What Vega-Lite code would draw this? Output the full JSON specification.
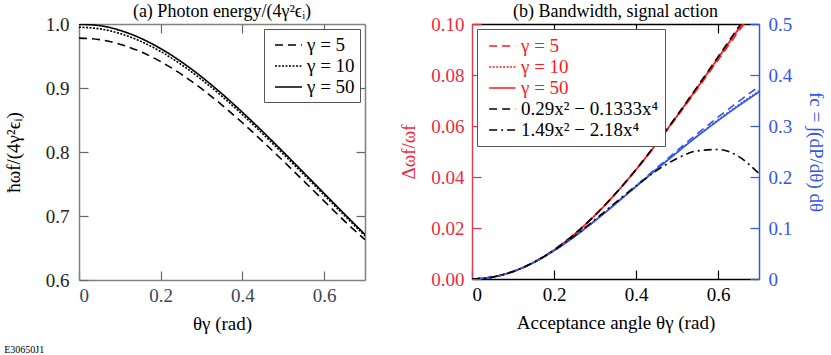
{
  "$schema": "https://vega.github.io/schema/vega-lite/v6.json",
  "background": "white",
  "padding": {"left": 4, "top": 3, "right": 2, "bottom": 0},
  "spacing": 33,
  "title": {"text": "E30650J1", "orient": "bottom", "anchor": "start", "fontSize": 10, "font": "Liberation Serif", "fontWeight": "normal", "offset": 12, "frame": "bounds"},
  "resolve": {"scale": {"strokeDash": "independent", "color": "independent", "x": "independent", "y": "independent"}, "legend": {"strokeDash": "independent", "color": "independent"}},
  "config": {
    "font": "Liberation Serif",
    "view": {"stroke": null},
    "axis": {"labelFontSize": 19, "titleFontSize": 19, "titleFontWeight": "normal", "grid": false, "tickSize": -9, "labelPadding": 18, "labelFont": "Liberation Serif", "titleFont": "Liberation Serif", "domainWidth": 1.5, "tickWidth": 1.2},
    "legend": {"labelFont": "Liberation Serif", "labelFontSize": 19},
    "title": {"fontSize": 18, "fontWeight": "normal", "font": "Liberation Serif", "offset": -6}
  },
  "datasets": {
    "left": [
      {"x": 0, "y": 0.978, "g": "γ = 5"}, {"x": 0.05, "y": 0.97561, "g": "γ = 5"}, {"x": 0.1, "y": 0.968523, "g": "γ = 5"}, {"x": 0.15, "y": 0.956938, "g": "γ = 5"}, {"x": 0.2, "y": 0.941176, "g": "γ = 5"}, {"x": 0.25, "y": 0.921659, "g": "γ = 5"}, {"x": 0.3, "y": 0.898876, "g": "γ = 5"}, {"x": 0.35, "y": 0.873362, "g": "γ = 5"}, {"x": 0.4, "y": 0.845666, "g": "γ = 5"}, {"x": 0.45, "y": 0.816327, "g": "γ = 5"}, {"x": 0.5, "y": 0.785855, "g": "γ = 5"}, {"x": 0.55, "y": 0.754717, "g": "γ = 5"}, {"x": 0.6, "y": 0.723327, "g": "γ = 5"}, {"x": 0.65, "y": 0.692042, "g": "γ = 5"}, {"x": 0.7, "y": 0.663, "g": "γ = 5"},
      {"x": 0, "y": 0.995, "g": "γ = 10"}, {"x": 0.05, "y": 0.992556, "g": "γ = 10"}, {"x": 0.1, "y": 0.985222, "g": "γ = 10"}, {"x": 0.15, "y": 0.973236, "g": "γ = 10"}, {"x": 0.2, "y": 0.956938, "g": "γ = 10"}, {"x": 0.25, "y": 0.936768, "g": "γ = 10"}, {"x": 0.3, "y": 0.913242, "g": "γ = 10"}, {"x": 0.35, "y": 0.886918, "g": "γ = 10"}, {"x": 0.4, "y": 0.858369, "g": "γ = 10"}, {"x": 0.45, "y": 0.828157, "g": "γ = 10"}, {"x": 0.5, "y": 0.796813, "g": "γ = 10"}, {"x": 0.55, "y": 0.764818, "g": "γ = 10"}, {"x": 0.6, "y": 0.732601, "g": "γ = 10"}, {"x": 0.65, "y": 0.700525, "g": "γ = 10"}, {"x": 0.7, "y": 0.668896, "g": "γ = 10"},
      {"x": 0, "y": 0.9995, "g": "γ = 50"}, {"x": 0.05, "y": 0.997506, "g": "γ = 50"}, {"x": 0.1, "y": 0.990099, "g": "γ = 50"}, {"x": 0.15, "y": 0.977995, "g": "γ = 50"}, {"x": 0.2, "y": 0.961538, "g": "γ = 50"}, {"x": 0.25, "y": 0.941176, "g": "γ = 50"}, {"x": 0.3, "y": 0.917431, "g": "γ = 50"}, {"x": 0.35, "y": 0.890869, "g": "γ = 50"}, {"x": 0.4, "y": 0.862069, "g": "γ = 50"}, {"x": 0.45, "y": 0.831601, "g": "γ = 50"}, {"x": 0.5, "y": 0.8, "g": "γ = 50"}, {"x": 0.55, "y": 0.767754, "g": "γ = 50"}, {"x": 0.6, "y": 0.735294, "g": "γ = 50"}, {"x": 0.65, "y": 0.702988, "g": "γ = 50"}, {"x": 0.7, "y": 0.671141, "g": "γ = 50"}
    ],
    "right": [
      {"x": 0, "v": 0, "s": "γ = 5"}, {"x": 0.05, "v": 0.000724, "s": "γ = 5"}, {"x": 0.1, "v": 0.002886, "s": "γ = 5"}, {"x": 0.15, "v": 0.006452, "s": "γ = 5"}, {"x": 0.2, "v": 0.011369, "s": "γ = 5"}, {"x": 0.25, "v": 0.01756, "s": "γ = 5"}, {"x": 0.3, "v": 0.02493, "s": "γ = 5"}, {"x": 0.35, "v": 0.033361, "s": "γ = 5"}, {"x": 0.4, "v": 0.042713, "s": "γ = 5"}, {"x": 0.45, "v": 0.052828, "s": "γ = 5"}, {"x": 0.5, "v": 0.063527, "s": "γ = 5"}, {"x": 0.55, "v": 0.074613, "s": "γ = 5"}, {"x": 0.6, "v": 0.085869, "s": "γ = 5"}, {"x": 0.65, "v": 0.097065, "s": "γ = 5"}, {"x": 0.7, "v": 0.107937, "s": "γ = 5"},
      {"x": 0, "v": 0, "s": "γ = 10"}, {"x": 0.05, "v": 0.000724, "s": "γ = 10"}, {"x": 0.1, "v": 0.002887, "s": "γ = 10"}, {"x": 0.15, "v": 0.006456, "s": "γ = 10"}, {"x": 0.2, "v": 0.011377, "s": "γ = 10"}, {"x": 0.25, "v": 0.01758, "s": "γ = 10"}, {"x": 0.3, "v": 0.02497, "s": "γ = 10"}, {"x": 0.35, "v": 0.033435, "s": "γ = 10"}, {"x": 0.4, "v": 0.042837, "s": "γ = 10"}, {"x": 0.45, "v": 0.053022, "s": "γ = 10"}, {"x": 0.5, "v": 0.063816, "s": "γ = 10"}, {"x": 0.55, "v": 0.075024, "s": "γ = 10"}, {"x": 0.6, "v": 0.086434, "s": "γ = 10"}, {"x": 0.65, "v": 0.097816, "s": "γ = 10"}, {"x": 0.7, "v": 0.108908, "s": "γ = 10"},
      {"x": 0, "v": 0, "s": "γ = 50"}, {"x": 0.05, "v": 0.000724, "s": "γ = 50"}, {"x": 0.1, "v": 0.002887, "s": "γ = 50"}, {"x": 0.15, "v": 0.006457, "s": "γ = 50"}, {"x": 0.2, "v": 0.01138, "s": "γ = 50"}, {"x": 0.25, "v": 0.017587, "s": "γ = 50"}, {"x": 0.3, "v": 0.024986, "s": "γ = 50"}, {"x": 0.35, "v": 0.033463, "s": "γ = 50"}, {"x": 0.4, "v": 0.042885, "s": "γ = 50"}, {"x": 0.45, "v": 0.053097, "s": "γ = 50"}, {"x": 0.5, "v": 0.063928, "s": "γ = 50"}, {"x": 0.55, "v": 0.075184, "s": "γ = 50"}, {"x": 0.6, "v": 0.086654, "s": "γ = 50"}, {"x": 0.65, "v": 0.098108, "s": "γ = 50"}, {"x": 0.7, "v": 0.109286, "s": "γ = 50"},
      {"x": 0, "v": 0, "s": "0.29x² − 0.1333x⁴"}, {"x": 0.05, "v": 0.000724, "s": "0.29x² − 0.1333x⁴"}, {"x": 0.1, "v": 0.002887, "s": "0.29x² − 0.1333x⁴"}, {"x": 0.15, "v": 0.006458, "s": "0.29x² − 0.1333x⁴"}, {"x": 0.2, "v": 0.011387, "s": "0.29x² − 0.1333x⁴"}, {"x": 0.25, "v": 0.017604, "s": "0.29x² − 0.1333x⁴"}, {"x": 0.3, "v": 0.02502, "s": "0.29x² − 0.1333x⁴"}, {"x": 0.35, "v": 0.033525, "s": "0.29x² − 0.1333x⁴"}, {"x": 0.4, "v": 0.042988, "s": "0.29x² − 0.1333x⁴"}, {"x": 0.45, "v": 0.053259, "s": "0.29x² − 0.1333x⁴"}, {"x": 0.5, "v": 0.064169, "s": "0.29x² − 0.1333x⁴"}, {"x": 0.55, "v": 0.075527, "s": "0.29x² − 0.1333x⁴"}, {"x": 0.6, "v": 0.087124, "s": "0.29x² − 0.1333x⁴"}, {"x": 0.65, "v": 0.098734, "s": "0.29x² − 0.1333x⁴"}, {"x": 0.7, "v": 0.110095, "s": "0.29x² − 0.1333x⁴"},
      {"x": 0, "v": 0, "s": "1.49x² − 2.18x⁴"}, {"x": 0.05, "v": 0.00371, "s": "1.49x² − 2.18x⁴"}, {"x": 0.1, "v": 0.01468, "s": "1.49x² − 2.18x⁴"}, {"x": 0.15, "v": 0.03242, "s": "1.49x² − 2.18x⁴"}, {"x": 0.2, "v": 0.05611, "s": "1.49x² − 2.18x⁴"}, {"x": 0.25, "v": 0.08461, "s": "1.49x² − 2.18x⁴"}, {"x": 0.3, "v": 0.11644, "s": "1.49x² − 2.18x⁴"}, {"x": 0.35, "v": 0.14981, "s": "1.49x² − 2.18x⁴"}, {"x": 0.4, "v": 0.18259, "s": "1.49x² − 2.18x⁴"}, {"x": 0.45, "v": 0.21233, "s": "1.49x² − 2.18x⁴"}, {"x": 0.5, "v": 0.23625, "s": "1.49x² − 2.18x⁴"}, {"x": 0.55, "v": 0.25124, "s": "1.49x² − 2.18x⁴"}, {"x": 0.6, "v": 0.25387, "s": "1.49x² − 2.18x⁴"}, {"x": 0.65, "v": 0.24044, "s": "1.49x² − 2.18x⁴"}, {"x": 0.7, "v": 0.20668, "s": "1.49x² − 2.18x⁴"},
      {"x": 0, "v": 0, "s": "fc γ = 5"}, {"x": 0.05, "v": 0.00373, "s": "fc γ = 5"}, {"x": 0.1, "v": 0.01472, "s": "fc γ = 5"}, {"x": 0.15, "v": 0.03233, "s": "fc γ = 5"}, {"x": 0.2, "v": 0.05566, "s": "fc γ = 5"}, {"x": 0.25, "v": 0.08356, "s": "fc γ = 5"}, {"x": 0.3, "v": 0.11481, "s": "fc γ = 5"}, {"x": 0.35, "v": 0.14821, "s": "fc γ = 5"}, {"x": 0.4, "v": 0.18272, "s": "fc γ = 5"}, {"x": 0.45, "v": 0.21745, "s": "fc γ = 5"}, {"x": 0.5, "v": 0.25172, "s": "fc γ = 5"}, {"x": 0.55, "v": 0.28507, "s": "fc γ = 5"}, {"x": 0.6, "v": 0.31721, "s": "fc γ = 5"}, {"x": 0.65, "v": 0.348, "s": "fc γ = 5"}, {"x": 0.7, "v": 0.37741, "s": "fc γ = 5"},
      {"x": 0, "v": 0, "s": "fc γ = 10"}, {"x": 0.05, "v": 0.00373, "s": "fc γ = 10"}, {"x": 0.1, "v": 0.01471, "s": "fc γ = 10"}, {"x": 0.15, "v": 0.0323, "s": "fc γ = 10"}, {"x": 0.2, "v": 0.05556, "s": "fc γ = 10"}, {"x": 0.25, "v": 0.08331, "s": "fc γ = 10"}, {"x": 0.3, "v": 0.11431, "s": "fc γ = 10"}, {"x": 0.35, "v": 0.14735, "s": "fc γ = 10"}, {"x": 0.4, "v": 0.18133, "s": "fc γ = 10"}, {"x": 0.45, "v": 0.21536, "s": "fc γ = 10"}, {"x": 0.5, "v": 0.24874, "s": "fc γ = 10"}, {"x": 0.55, "v": 0.28101, "s": "fc γ = 10"}, {"x": 0.6, "v": 0.31184, "s": "fc γ = 10"}, {"x": 0.65, "v": 0.34112, "s": "fc γ = 10"}, {"x": 0.7, "v": 0.36879, "s": "fc γ = 10"},
      {"x": 0, "v": 0, "s": "fc γ = 50"}, {"x": 0.05, "v": 0.00373, "s": "fc γ = 50"}, {"x": 0.1, "v": 0.01471, "s": "fc γ = 50"}, {"x": 0.15, "v": 0.03229, "s": "fc γ = 50"}, {"x": 0.2, "v": 0.05553, "s": "fc γ = 50"}, {"x": 0.25, "v": 0.08325, "s": "fc γ = 50"}, {"x": 0.3, "v": 0.11419, "s": "fc γ = 50"}, {"x": 0.35, "v": 0.14713, "s": "fc γ = 50"}, {"x": 0.4, "v": 0.18098, "s": "fc γ = 50"}, {"x": 0.45, "v": 0.21484, "s": "fc γ = 50"}, {"x": 0.5, "v": 0.248, "s": "fc γ = 50"}, {"x": 0.55, "v": 0.27999, "s": "fc γ = 50"}, {"x": 0.6, "v": 0.3105, "s": "fc γ = 50"}, {"x": 0.65, "v": 0.3394, "s": "fc γ = 50"}, {"x": 0.7, "v": 0.36663, "s": "fc γ = 50"}
    ],
    "corner": [{"x": 0, "y": 0.6, "v": 0}]
  },
  "hconcat": [
    {
      "width": 286, "height": 256,
      "title": {"text": "(a) Photon energy/(4γ²ϵᵢ)"},
      "layer": [
        {
          "data": {"name": "left"},
          "mark": {"type": "line", "color": "black", "strokeWidth": 1.6, "interpolate": "monotone", "clip": true},
          "encoding": {
            "x": {"field": "x", "type": "quantitative", "scale": {"domain": [0, 0.7], "nice": false}, "axis": {"title": "θγ (rad)", "values": [0, 0.2, 0.4, 0.6], "format": "~g", "domainColor": "#808080", "tickColor": "#666666", "labelColor": "#3a4650", "labelPadding": 15, "titlePadding": 9}},
            "y": {"field": "y", "type": "quantitative", "scale": {"domain": [0.6, 1.0], "nice": false, "zero": false}, "axis": {"title": "ħωf/(4γ²ϵᵢ)", "values": [0.6, 0.7, 0.8, 0.9, 1.0], "format": ".1f", "domainColor": "#808080", "tickColor": "#666666", "labelColor": "#222222", "labelPadding": 19, "titlePadding": 22}},
            "strokeDash": {"field": "g", "type": "nominal", "scale": {"domain": ["γ = 5", "γ = 10", "γ = 50"], "range": [[8, 5], [2, 1.5], [1, 0]]},
              "legend": {"title": null, "orient": "top-right", "offset": 5, "strokeColor": "#555555", "fillColor": "white", "padding": 5, "symbolType": "M-0.5,0H2.2", "symbolSize": 400, "symbolStrokeWidth": 1.6, "symbolStrokeColor": "black", "rowPadding": 0, "labelFontSize": 19, "labelOffset": 16}}
          }
        },
        {
          "data": {"name": "corner"},
          "mark": {"type": "point", "opacity": 0},
          "encoding": {
            "x": {"field": "x", "type": "quantitative", "scale": {"domain": [0, 0.7], "nice": false}, "axis": {"orient": "top", "title": null, "labels": false, "labelPadding": 0, "values": [0.2, 0.4, 0.6], "domainColor": "#808080", "tickColor": "#666666"}},
            "y": {"field": "y", "type": "quantitative", "scale": {"domain": [0.6, 1.0], "nice": false, "zero": false}, "axis": {"orient": "right", "title": null, "labels": false, "labelPadding": 0, "values": [0.7, 0.8, 0.9], "domainColor": "#808080", "tickColor": "#666666"}}
          }
        }
      ],
      "resolve": {"axis": {"x": "independent", "y": "independent"}}
    },
    {
      "width": 287, "height": 255,
      "title": {"text": "(b) Bandwidth, signal action"},
      "data": {"name": "right"},
      "layer": [
        {
          "transform": [{"filter": "indexof(['γ = 5','γ = 10','γ = 50','0.29x² − 0.1333x⁴'], datum.s) >= 0"}],
          "mark": {"type": "line", "strokeWidth": 1.6, "interpolate": "monotone", "clip": true},
          "encoding": {
            "x": {"field": "x", "type": "quantitative", "scale": {"domain": [0, 0.7], "nice": false}, "axis": {"title": "Acceptance angle θγ (rad)", "values": [0, 0.2, 0.4, 0.6], "format": "~g", "domainColor": "black", "tickColor": "black", "labelColor": "black", "labelPadding": 15, "titlePadding": 9}},
            "y": {"field": "v", "type": "quantitative", "scale": {"domain": [0, 0.1], "nice": false}, "axis": {"title": "Δωf/ωf", "values": [0, 0.02, 0.04, 0.06, 0.08, 0.1], "format": ".2f", "domainColor": "#d84050", "tickColor": "#e8303a", "labelColor": "#f0283c", "titleColor": "#f0283c", "labelPadding": 17, "titlePadding": 12}},
            "color": {"field": "s", "type": "nominal", "scale": {"domain": ["γ = 5", "γ = 10", "γ = 50", "0.29x² − 0.1333x⁴", "1.49x² − 2.18x⁴"], "range": ["#ff1a1a", "#ff1a1a", "#ff1a1a", "black", "black"]},
              "legend": {"title": null, "orient": "top-left", "offset": 5, "strokeColor": "#555555", "fillColor": "white", "padding": 6, "symbolType": "M-0.5,0H2.2", "symbolSize": 380, "symbolStrokeWidth": 1.6, "rowPadding": 0, "labelFontSize": 19, "labelOffset": 16,
                "encode": {"labels": {"update": {"fill": {"signal": "indexof(datum.label, 'γ') >= 0 ? '#ff1a1a' : 'black'"}}}}}},
            "strokeDash": {"field": "s", "type": "nominal", "scale": {"domain": ["γ = 5", "γ = 10", "γ = 50", "0.29x² − 0.1333x⁴", "1.49x² − 2.18x⁴"], "range": [[8, 5], [2, 1.5], [1, 0], [8, 5], [8, 4, 2, 4]]},
              "legend": {"title": null, "orient": "top-left", "offset": 5, "strokeColor": "#555555", "fillColor": "white", "padding": 6, "symbolType": "M-0.5,0H2.2", "symbolSize": 380, "symbolStrokeWidth": 1.6, "rowPadding": 0, "labelFontSize": 19, "labelOffset": 16,
                "encode": {"labels": {"update": {"fill": {"signal": "indexof(datum.label, 'γ') >= 0 ? '#ff1a1a' : 'black'"}}}}}}
          }
        },
        {
          "layer": [
            {
              "transform": [{"filter": "datum.s == 'fc γ = 5'"}],
              "mark": {"type": "line", "color": "#3355ee", "strokeWidth": 1.6, "strokeDash": [8, 5], "interpolate": "monotone", "clip": true},
              "encoding": {
                "x": {"field": "x", "type": "quantitative", "scale": {"domain": [0, 0.7], "nice": false}, "axis": {"orient": "top", "title": null, "labels": false, "labelPadding": 0, "values": [0.2, 0.4, 0.6], "domainColor": "black", "tickColor": "black"}},
                "y": {"field": "v", "type": "quantitative", "scale": {"domain": [0, 0.5], "nice": false}, "axis": {"orient": "right", "title": "fc = ∫(dP/dθ) dθ", "values": [0, 0.1, 0.2, 0.3, 0.4, 0.5], "format": "~g", "domainColor": "#3355ee", "tickColor": "#3355ee", "labelColor": "#3355ee", "titleColor": "#3355ee", "labelPadding": 18, "titlePadding": 14}}
              }
            },
            {
              "transform": [{"filter": "datum.s == 'fc γ = 10'"}],
              "mark": {"type": "line", "color": "#3355ee", "strokeWidth": 1.6, "strokeDash": [2, 1.5], "interpolate": "monotone", "clip": true},
              "encoding": {
                "x": {"field": "x", "type": "quantitative"},
                "y": {"field": "v", "type": "quantitative"}
              }
            },
            {
              "transform": [{"filter": "datum.s == 'fc γ = 50'"}],
              "mark": {"type": "line", "color": "#3355ee", "strokeWidth": 1.6, "interpolate": "monotone", "clip": true},
              "encoding": {
                "x": {"field": "x", "type": "quantitative"},
                "y": {"field": "v", "type": "quantitative"}
              }
            },
            {
              "transform": [{"filter": "datum.s == '1.49x² − 2.18x⁴'"}],
              "mark": {"type": "line", "color": "black", "strokeWidth": 1.6, "strokeDash": [8, 4, 2, 4], "interpolate": "monotone", "clip": true},
              "encoding": {
                "x": {"field": "x", "type": "quantitative"},
                "y": {"field": "v", "type": "quantitative"}
              }
            }
          ]
        }
      ],
      "resolve": {"scale": {"y": "independent"}, "axis": {"x": "independent", "y": "independent"}}
    }
  ]
}
